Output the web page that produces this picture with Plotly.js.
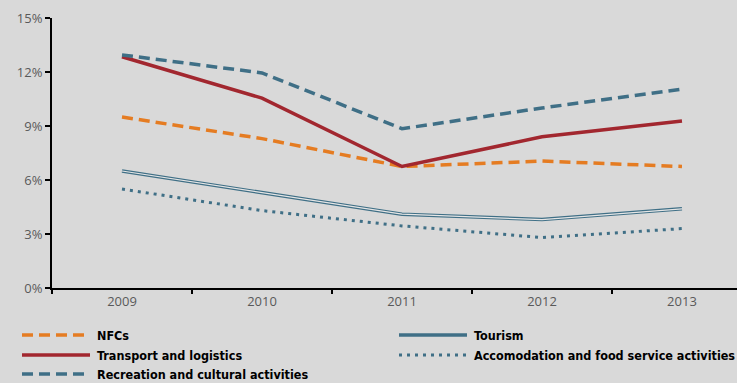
<!DOCTYPE html>
<html><head><meta charset="utf-8">
<script src="https://cdn.plot.ly/plotly-3.0.1.min.js"></script>
<style>body{margin:0;background:#d9d9d9}#c{width:737px;height:383px}</style>
</head><body><div id="c"></div>
<script>
const years = ['2009','2010','2011','2012','2013'];
const nfcs = [9.5, 8.3, 6.75, 7.05, 6.75];
const transport = [12.85, 10.55, 6.75, 8.4, 9.28];
const recreation = [12.95, 11.95, 8.85, 10.0, 11.05];
const tourism = [6.5, 5.3, 4.1, 3.8, 4.4];
const accommodation = [5.5, 4.3, 3.45, 2.8, 3.3];
const seriesNames = ['NFCs', 'Tourism', 'Transport and logistics',
  'Accomodation and food service activities', 'Recreation and cultural activities'];

const orange = '#e57c22', red = '#a2272f', teal = '#3f6f86', bg = '#d9d9d9';
const dashed = '11px,6px', dotted = '3px,5px';

const lineStyles = [
  {color: orange, width: 3.5, dash: dashed},
  {color: teal, width: 3.5, dash: 'solid'},
  {color: red, width: 3.5, dash: 'solid'},
  {color: teal, width: 3, dash: dotted},
  {color: teal, width: 3.5, dash: dashed}
];
const seriesData = [nfcs, tourism, transport, accommodation, recreation];

const traces = seriesData.map((d, i) => ({
  x: years, y: d, name: seriesNames[i], mode: 'lines', line: lineStyles[i], showlegend: false
}));
// light inner stroke of the Tourism double line
traces.push({x: years, y: tourism, mode: 'lines', showlegend: false, hoverinfo: 'skip',
             line: {color: '#e6e6e6', width: 1.2}});

// manual legend (two columns: filled row-wise)
const plotW = 685, plotH = 270, marL = 52, marT = 18;
const px = v => (v - marL) / plotW;
const py = v => (marT + plotH - v) / plotH;
const colX = [22, 399], rowY = [335, 355, 374];
const shapes = [], annotations = [];
seriesNames.forEach((n, i) => {
  const c = i % 2, r = Math.floor(i / 2);
  const x0 = colX[c], y = rowY[r];
  shapes.push({type: 'line', xref: 'paper', yref: 'paper', x0: px(x0), x1: px(x0 + 68), y0: py(y), y1: py(y),
               line: {color: lineStyles[i].color, width: lineStyles[i].width, dash: lineStyles[i].dash}});
  annotations.push({xref: 'paper', yref: 'paper', x: px(x0 + 73), y: py(y), xanchor: 'left', yanchor: 'middle',
                    showarrow: false, text: '<b>' + n + '</b>',
                    font: {family: '"DejaVu Sans Condensed", sans-serif', size: 12.5, color: '#000'}});
});

const layout = {
  width: 737, height: 383,
  paper_bgcolor: bg, plot_bgcolor: bg,
  margin: {l: marL, r: 0, t: marT, b: 383 - marT - plotH},
  font: {family: '"Open Sans", sans-serif', color: '#595959', size: 13},
  showlegend: false,
  xaxis: {type: 'category', range: [-0.5, 4.393], showgrid: false, zeroline: false,
          showline: true, linecolor: '#000', linewidth: 2,
          ticks: 'outside', tickson: 'boundaries', ticklen: 4, tickcolor: '#000', tickwidth: 2,
          tickfont: {size: 13, color: '#595959'}, fixedrange: true},
  yaxis: {range: [0, 15], tickvals: [0, 3, 6, 9, 12, 15], ticktext: ['0%','3%','6%','9%','12%','15%'],
          showgrid: false, zeroline: false, showline: true, linecolor: '#000', linewidth: 2,
          ticks: 'outside', ticklen: 5, tickcolor: '#000', tickwidth: 2,
          tickfont: {size: 13, color: '#595959'}, fixedrange: true},
  shapes: shapes,
  annotations: annotations
};

Plotly.newPlot('c', traces, layout, {displayModeBar: false, staticPlot: true});
</script>
</body></html>
